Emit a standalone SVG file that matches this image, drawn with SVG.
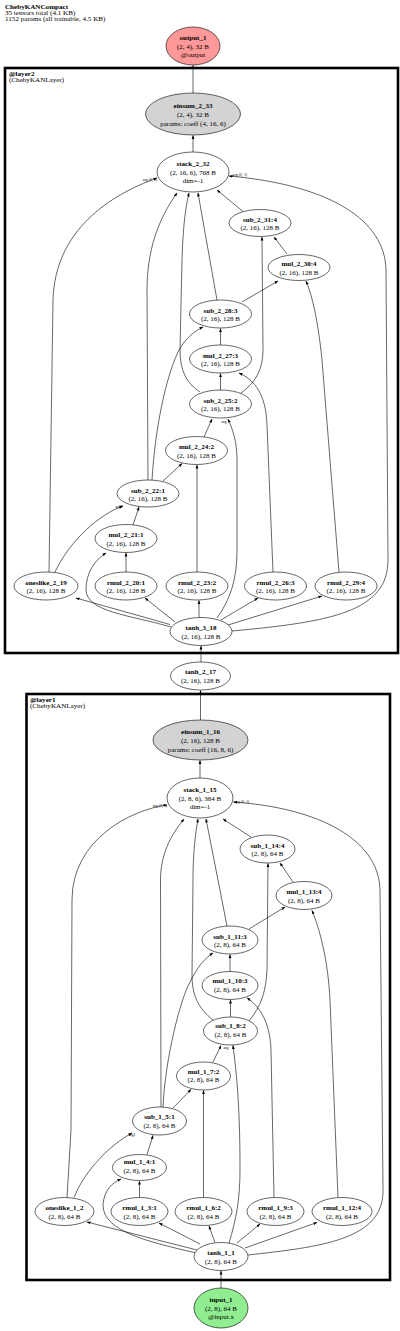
<svg xmlns="http://www.w3.org/2000/svg" width="400" height="1331" viewBox="0 0 400 1331">
<style>
text{font-family:"Liberation Serif","DejaVu Serif",serif;font-size:7px;fill:#000;text-anchor:middle}
.b{font-weight:bold}
.hd{text-anchor:start;font-size:7.1px}
.el{font-size:3.9px}
ellipse{fill:#fff;stroke:#000;stroke-width:0.6}
.gray{fill:#d3d3d3}
.out{fill:#ff9999}
.in{fill:#90ee90}
.cl{fill:none;stroke:#000;stroke-width:2.6}
#edges path{fill:none;stroke:#000;stroke-width:0.6;marker-end:url(#ah)}
</style>
<defs>
<marker id="ah" markerWidth="4" markerHeight="4" refX="3.6" refY="2" orient="auto" markerUnits="userSpaceOnUse"><path d="M0,0.6 L4,2 L0,3.4z" fill="#000"/></marker>
</defs>
<rect width="400" height="1331" fill="#fff"/>
<text class="hd b" x="5" y="9">ChebyKANCompact</text>
<text class="hd" x="5" y="15">35 tensors total (4.1 KB)</text>
<text class="hd" x="5" y="21">1152 params (all trainable, 4.5 KB)</text>

<g id="layer2">
<rect class="cl" x="5" y="68" width="393" height="585"/>
<text class="hd b" x="9" y="76">@layer2</text>
<text class="hd" x="9" y="82">(ChebyKANLayer)</text>
</g>
<g id="layer1">
<rect class="cl" x="26.5" y="694" width="363.5" height="586"/>
<text class="hd b" x="30" y="702">@layer1</text>
<text class="hd" x="30" y="708">(ChebyKANLayer)</text>
</g>

<g id="edges">
<path d="M193,93 L193,65.5"/>
<path d="M193,152 L193,135.5"/>
<path d="M243,211.5 L217,190"/>
<path d="M287,254 L274,237"/>
<path d="M242,302 L278,281"/>
<path d="M217,300 L198,193"/>
<path d="M220.5,345 L220.5,328.5"/>
<path d="M220.5,390 L220.5,373.5"/>
<path d="M200,392 C186,383 180,370 180,350 L182,260 C183,225 186,205 189,193"/>
<path d="M241,393 C255,383 263,370 263,350 L262,237"/>
<path d="M204,437 L212,419"/>
<path d="M163,481 L182,463.5"/>
<path d="M148,480 L147,290 C147,240 165,210 177,193"/>
<path d="M152,480 C155,430 165,380 178,352 C185,338 195,331 203,327"/>
<path d="M197,572 L197,465"/>
<path d="M133,525 L139,507"/>
<path d="M126,572 L126,553"/>
<path d="M55,572 C70,540 100,514 123,506"/>
<path d="M49,572 L53,300 C55,230 110,195 157,178"/>
<path d="M273,572 L267,425 C266,395 255,380 239,373"/>
<path d="M339,572 L322,360 C318,320 312,295 306,281"/>
<path d="M170,624.5 L76,598"/>
<path d="M171,627 C130,615 87,612 86,590 C86,572 95,560 106,553"/>
<path d="M175,622 L145,598"/>
<path d="M199,617.5 L199,600.5"/>
<path d="M217,618 C230,600 237,580 237,550 L237,460 C237,440 232,428 228,419"/>
<path d="M221,620 L258,598"/>
<path d="M228,625 L322,596"/>
<path d="M232,631 C330,622 388,612 388,560 L386,270 C385,220 330,185 229,176"/>
<path d="M201,662 L201,646"/>
<path d="M200.5,720 L200.5,690.5"/>
<path d="M200,778 L200,760.5"/>
<path d="M251,837 L223,819"/>
<path d="M293,882 L280,863"/>
<path d="M249,929 L285,907"/>
<path d="M227,926 L206,819"/>
<path d="M230,971.5 L230,954.5"/>
<path d="M230.5,1017 L230.5,1000"/>
<path d="M213,1020 C198,1008 192,995 192,975 L193,880 C193,850 196,830 198,819"/>
<path d="M249,1021 C262,1005 266,990 267,970 L268,863.5"/>
<path d="M213,1062 L221,1045.5"/>
<path d="M173,1108 L191,1089.5"/>
<path d="M161,1107 L160.5,880 C160.5,850 175,830 184,819"/>
<path d="M163,1107 C165,1060 180,1000 190,982 C198,966 205,958 213,953"/>
<path d="M147,1154.5 L153,1135.5"/>
<path d="M139.5,1197.5 L139.5,1181"/>
<path d="M74,1197.5 C85,1170 110,1145 132,1133"/>
<path d="M67,1197.5 L71,1130 L72,900 C72,840 130,810 167,805"/>
<path d="M203.5,1197.5 L203.5,1090.5"/>
<path d="M274,1197.5 L271,1050 C270,1020 258,1005 247,998"/>
<path d="M338,1197.5 L330,1000 C328,960 320,930 312,910.5"/>
<path d="M197,1250 L87,1222"/>
<path d="M196,1253 C150,1242 103,1232 103,1205 C104,1190 112,1183 121,1179"/>
<path d="M200,1244 L159,1223"/>
<path d="M215,1242.5 L209,1226"/>
<path d="M229,1243 C236,1220 240,1200 240,1170 C240,1100 236,1070 233,1045.5"/>
<path d="M237,1243 L260,1224"/>
<path d="M245,1248 L317,1222.5"/>
<path d="M248,1255 C320,1247 384,1240 383,1190 L380,890 C379,840 320,808 233.5,802"/>
<path d="M221,1288 L221,1271"/>
</g>
<g id="edge-labels">
<text class="el" x="150" y="181">arg (0, 0)</text>
<text class="el" x="240" y="176">arg (0, 1)</text>
<text class="el" x="224" y="423">arg</text>
<text class="el" x="119" y="508">arg1</text>
<text class="el" x="160" y="807">arg (0, 0)</text>
<text class="el" x="242" y="803">arg (0, 1)</text>
<text class="el" x="226" y="1049">arg</text>
<text class="el" x="132" y="1136">arg1</text>
</g>

<g id="output_1"><ellipse class="out" cx="193" cy="46" rx="27" ry="19"/><text class="b" x="193" y="39.5">output_1</text><text x="193" y="48.5">(2, 4), 32 B</text><text x="193" y="57">@output</text></g>
<g id="einsum_2_33"><ellipse class="gray" cx="193" cy="114" rx="47.5" ry="21"/><text class="b" x="193" y="108">einsum_2_33</text><text x="193" y="117">(2, 4), 32 B</text><text x="193" y="126">params: coeff (4, 16, 6)</text></g>
<g id="stack_2_32"><ellipse cx="193" cy="172" rx="36" ry="20"/><text class="b" x="193" y="165.5">stack_2_32</text><text x="193" y="174.5">(2, 16, 6), 768 B</text><text x="193" y="183">dim=-1</text></g>
<g id="sub_2_31_4"><ellipse cx="260" cy="223" rx="31" ry="13.5"/><text class="b" x="260" y="221.5">sub_2_31:4</text><text x="260" y="230">(2, 16), 128 B</text></g>
<g id="mul_2_30_4"><ellipse cx="299" cy="267.5" rx="31" ry="13"/><text class="b" x="299" y="266">mul_2_30:4</text><text x="299" y="274.5">(2, 16), 128 B</text></g>
<g id="sub_2_28_3"><ellipse cx="220.5" cy="314" rx="31" ry="14"/><text class="b" x="220.5" y="312.5">sub_2_28:3</text><text x="220.5" y="321">(2, 16), 128 B</text></g>
<g id="mul_2_27_3"><ellipse cx="220.5" cy="359" rx="31" ry="14"/><text class="b" x="220.5" y="357.5">mul_2_27:3</text><text x="220.5" y="366">(2, 16), 128 B</text></g>
<g id="sub_2_25_2"><ellipse cx="220.5" cy="404" rx="31" ry="14"/><text class="b" x="220.5" y="402.5">sub_2_25:2</text><text x="220.5" y="411">(2, 16), 128 B</text></g>
<g id="mul_2_24_2"><ellipse cx="196.5" cy="450.5" rx="31" ry="14"/><text class="b" x="196.5" y="449">mul_2_24:2</text><text x="196.5" y="457.5">(2, 16), 128 B</text></g>
<g id="sub_2_22_1"><ellipse cx="148" cy="493.5" rx="31" ry="13.5"/><text class="b" x="148" y="492.5">sub_2_22:1</text><text x="148" y="501">(2, 16), 128 B</text></g>
<g id="mul_2_21_1"><ellipse cx="126" cy="538.5" rx="31" ry="14"/><text class="b" x="126" y="537">mul_2_21:1</text><text x="126" y="545.5">(2, 16), 128 B</text></g>
<g id="oneslike_2_19"><ellipse cx="46" cy="586" rx="32" ry="14"/><text class="b" x="46" y="584.5">oneslike_2_19</text><text x="46" y="593">(2, 16), 128 B</text></g>
<g id="rmul_2_20_1"><ellipse cx="126" cy="586" rx="31" ry="14"/><text class="b" x="126" y="584.5">rmul_2_20:1</text><text x="126" y="593">(2, 16), 128 B</text></g>
<g id="rmul_2_23_2"><ellipse cx="197" cy="586" rx="31" ry="14"/><text class="b" x="197" y="584.5">rmul_2_23:2</text><text x="197" y="593">(2, 16), 128 B</text></g>
<g id="rmul_2_26_3"><ellipse cx="275.5" cy="586" rx="31" ry="14"/><text class="b" x="275.5" y="584.5">rmul_2_26:3</text><text x="275.5" y="593">(2, 16), 128 B</text></g>
<g id="rmul_2_29_4"><ellipse cx="346" cy="586" rx="31" ry="14"/><text class="b" x="346" y="584.5">rmul_2_29:4</text><text x="346" y="593">(2, 16), 128 B</text></g>
<g id="tanh_3_18"><ellipse cx="201" cy="631.5" rx="31" ry="14"/><text class="b" x="201" y="630">tanh_3_18</text><text x="201" y="638.5">(2, 16), 128 B</text></g>
<g id="tanh_2_17"><ellipse cx="200.5" cy="676" rx="30" ry="14"/><text class="b" x="200.5" y="674">tanh_2_17</text><text x="200.5" y="683">(2, 16), 128 B</text></g>

<g id="einsum_1_16"><ellipse class="gray" cx="200.5" cy="740" rx="47.5" ry="20"/><text class="b" x="200.5" y="734">einsum_1_16</text><text x="200.5" y="743">(2, 16), 128 B</text><text x="200.5" y="751.5">params: coeff (16, 8, 6)</text></g>
<g id="stack_1_15"><ellipse cx="200" cy="798" rx="33" ry="20"/><text class="b" x="200" y="791.5">stack_1_15</text><text x="200" y="800.5">(2, 8, 6), 384 B</text><text x="200" y="809">dim=-1</text></g>
<g id="sub_1_14_4"><ellipse cx="267.5" cy="849" rx="27.5" ry="14"/><text class="b" x="267.5" y="847.5">sub_1_14:4</text><text x="267.5" y="856">(2, 8), 64 B</text></g>
<g id="mul_1_13_4"><ellipse cx="304" cy="895.5" rx="28" ry="14"/><text class="b" x="304" y="894">mul_1_13:4</text><text x="304" y="902.5">(2, 8), 64 B</text></g>
<g id="sub_1_11_3"><ellipse cx="230" cy="940" rx="28" ry="14"/><text class="b" x="230" y="938.5">sub_1_11:3</text><text x="230" y="947">(2, 8), 64 B</text></g>
<g id="mul_1_10_3"><ellipse cx="230" cy="985.5" rx="28" ry="14"/><text class="b" x="230" y="983">mul_1_10:3</text><text x="230" y="991.5">(2, 8), 64 B</text></g>
<g id="sub_1_8_2"><ellipse cx="230.5" cy="1031" rx="27" ry="14"/><text class="b" x="230.5" y="1028">sub_1_8:2</text><text x="230.5" y="1036.5">(2, 8), 64 B</text></g>
<g id="mul_1_7_2"><ellipse cx="203.5" cy="1076" rx="27" ry="14"/><text class="b" x="203.5" y="1073.5">mul_1_7:2</text><text x="203.5" y="1082">(2, 8), 64 B</text></g>
<g id="sub_1_5_1"><ellipse cx="159.5" cy="1121" rx="27" ry="14"/><text class="b" x="159.5" y="1119">sub_1_5:1</text><text x="159.5" y="1128">(2, 8), 64 B</text></g>
<g id="mul_1_4_1"><ellipse cx="139.5" cy="1167.5" rx="27" ry="13"/><text class="b" x="139.5" y="1164">mul_1_4:1</text><text x="139.5" y="1173">(2, 8), 64 B</text></g>
<g id="oneslike_1_2"><ellipse cx="64.5" cy="1211.5" rx="29.5" ry="14"/><text class="b" x="64.5" y="1209.5">oneslike_1_2</text><text x="64.5" y="1218.5">(2, 8), 64 B</text></g>
<g id="rmul_1_3_1"><ellipse cx="139.5" cy="1211.5" rx="28.5" ry="14"/><text class="b" x="139.5" y="1209.5">rmul_1_3:1</text><text x="139.5" y="1218.5">(2, 8), 64 B</text></g>
<g id="rmul_1_6_2"><ellipse cx="203.5" cy="1211.5" rx="28.5" ry="14"/><text class="b" x="203.5" y="1209.5">rmul_1_6:2</text><text x="203.5" y="1218.5">(2, 8), 64 B</text></g>
<g id="rmul_1_9_3"><ellipse cx="275.5" cy="1211.5" rx="28.5" ry="14"/><text class="b" x="275.5" y="1209.5">rmul_1_9:3</text><text x="275.5" y="1218.5">(2, 8), 64 B</text></g>
<g id="rmul_1_12_4"><ellipse cx="342" cy="1211.5" rx="30" ry="14"/><text class="b" x="342" y="1209.5">rmul_1_12:4</text><text x="342" y="1218.5">(2, 8), 64 B</text></g>
<g id="tanh_1_1"><ellipse cx="221" cy="1256.5" rx="27" ry="14"/><text class="b" x="221" y="1254.5">tanh_1_1</text><text x="221" y="1263.5">(2, 8), 64 B</text></g>
<g id="input_1"><ellipse class="in" cx="221" cy="1308" rx="27" ry="20"/><text class="b" x="221" y="1301.5">input_1</text><text x="221" y="1310.5">(2, 8), 64 B</text><text x="221" y="1319">@input.x</text></g>
</svg>
